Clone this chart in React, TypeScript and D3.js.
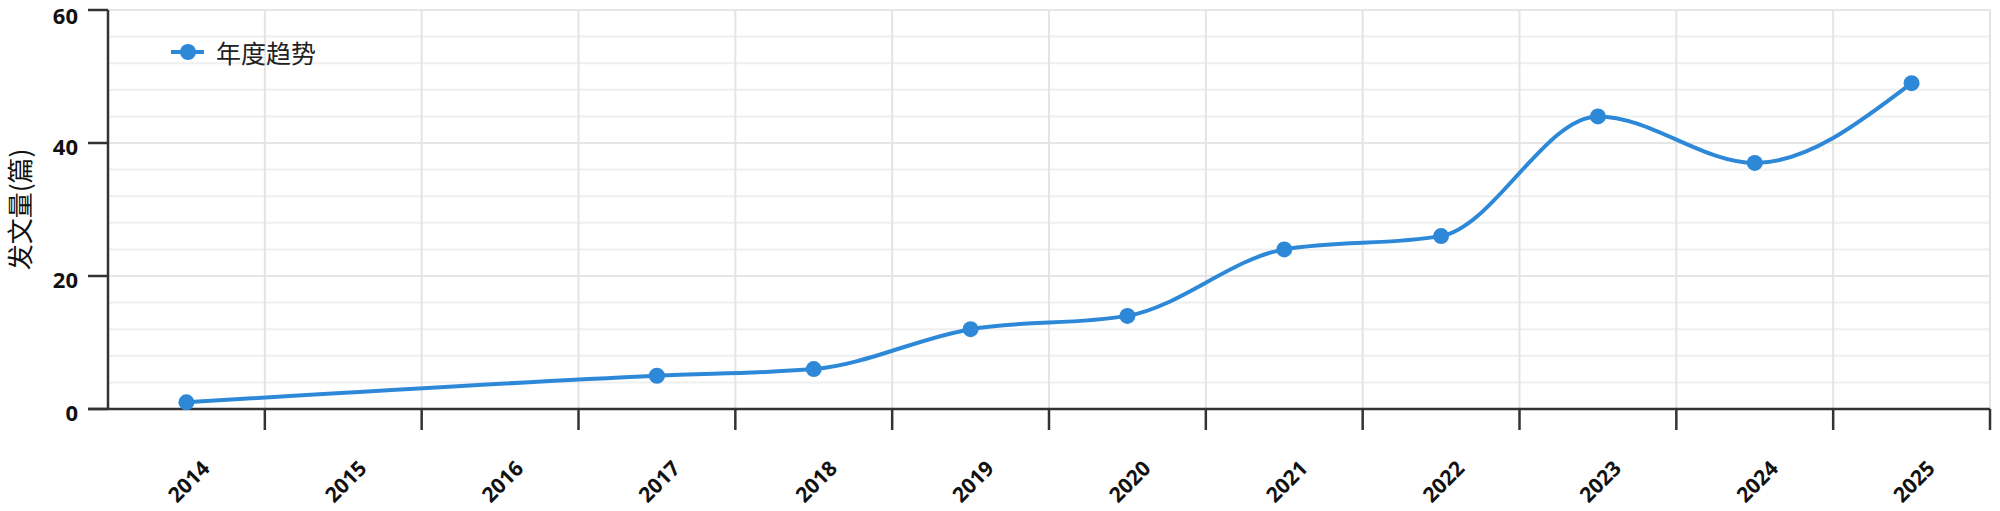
import React from "react";
import * as d3 from "d3";

const years = ["2014", "2015", "2016", "2017", "2018", "2019", "2020", "2021", "2022", "2023", "2024", "2025"];
const counts: (number | null)[] = [1, null, null, 5, 6, 12, 14, 24, 26, 44, 37, 49];
const yTicks = [0, 20, 40, 60];
const seriesName = "年度趋势";
const yTitle = "发文量(篇)";

const W = 2000;
const H = 511;
const M = { left: 108, right: 10, top: 10, bottom: 102 };
const COLOR = "#2e88d8";

export default function App() {
  const x = d3.scaleBand<string>().domain(years).range([M.left, W - M.right]).padding(0);
  const y = d3.scaleLinear().domain([0, 60]).range([H - M.bottom, M.top]);
  const pts = years
    .map((yr, i) => ({ yr, v: counts[i] }))
    .filter((d) => d.v !== null) as { yr: string; v: number }[];
  const cx = (yr: string) => (x(yr) as number) + x.bandwidth() / 2;
  const line = d3
    .line<{ yr: string; v: number }>()
    .x((d) => cx(d.yr))
    .y((d) => y(d.v))
    .curve(d3.curveMonotoneX);
  const minor = d3.range(4, 61, 4);
  const boundaries = years.map((yr) => (x(yr) as number) + x.bandwidth());
  const font = "'Open Sans', 'Noto Sans', sans-serif";
  const cjk = "'Noto Sans CJK SC', sans-serif";
  const x0 = M.left;
  const x1 = W - M.right;
  const y0 = y(0);

  return (
    <svg width={W} height={H} style={{ position: "absolute", left: 0, top: 0, background: "#fff" }}>
      {/* horizontal grid */}
      {minor.map((v) => (
        <line key={"h" + v} x1={x0} x2={x1} y1={y(v)} y2={y(v)} stroke={v % 20 === 0 ? "#e6e6e6" : "#efefef"} strokeWidth={2} />
      ))}
      {/* vertical grid */}
      {boundaries.map((bx, i) => (
        <line key={"v" + i} x1={bx} x2={bx} y1={y(60)} y2={y0} stroke="#e4e4e4" strokeWidth={2} />
      ))}
      {/* y axis */}
      <line x1={x0} x2={x0} y1={y(60)} y2={y0} stroke="#333" strokeWidth={2.5} />
      {yTicks.map((t) => (
        <g key={"yt" + t}>
          <line x1={x0 - 20} x2={x0} y1={y(t)} y2={y(t)} stroke="#333" strokeWidth={2.5} />
          <text x={x0 - 30} y={Math.max(y(t) + 3, 15)} textAnchor="end" dominantBaseline="central" fontFamily={font} fontWeight={700} fontSize={22} fill="#111">
            {t}
          </text>
        </g>
      ))}
      {/* x axis */}
      <line x1={x0 - 20} x2={x1} y1={y0} y2={y0} stroke="#333" strokeWidth={2.5} />
      {boundaries.map((bx, i) => (
        <line key={"xt" + i} x1={bx} x2={bx} y1={y0} y2={y0 + 21} stroke="#333" strokeWidth={2.5} />
      ))}
      {years.map((yr) => (
        <text
          key={"xl" + yr}
          transform={`translate(${cx(yr) + 2},${y0 + 72}) rotate(-45)`}
          textAnchor="middle"
          dominantBaseline="central"
          fontFamily={font}
          fontWeight={700}
          fontSize={21}
          fill="#111"
        >
          {yr}
        </text>
      ))}
      {/* y title */}
      <text
        transform={`translate(18,${(y(60) + y0) / 2}) rotate(-90)`}
        textAnchor="middle"
        dominantBaseline="central"
        fontFamily={cjk}
        fontSize={26}
        fill="#111"
      >
        {yTitle}
      </text>
      {/* series */}
      <path d={line(pts) || ""} fill="none" stroke={COLOR} strokeWidth={4} />
      {pts.map((d) => (
        <circle key={"p" + d.yr} cx={cx(d.yr)} cy={y(d.v)} r={8} fill={COLOR} />
      ))}
      {/* legend */}
      <line x1={171} x2={204} y1={52} y2={52} stroke={COLOR} strokeWidth={4} />
      <circle cx={188} cy={52} r={8} fill={COLOR} />
      <text x={216} y={52} dominantBaseline="central" fontFamily={cjk} fontSize={25} fill="#222">
        {seriesName}
      </text>
    </svg>
  );
}
